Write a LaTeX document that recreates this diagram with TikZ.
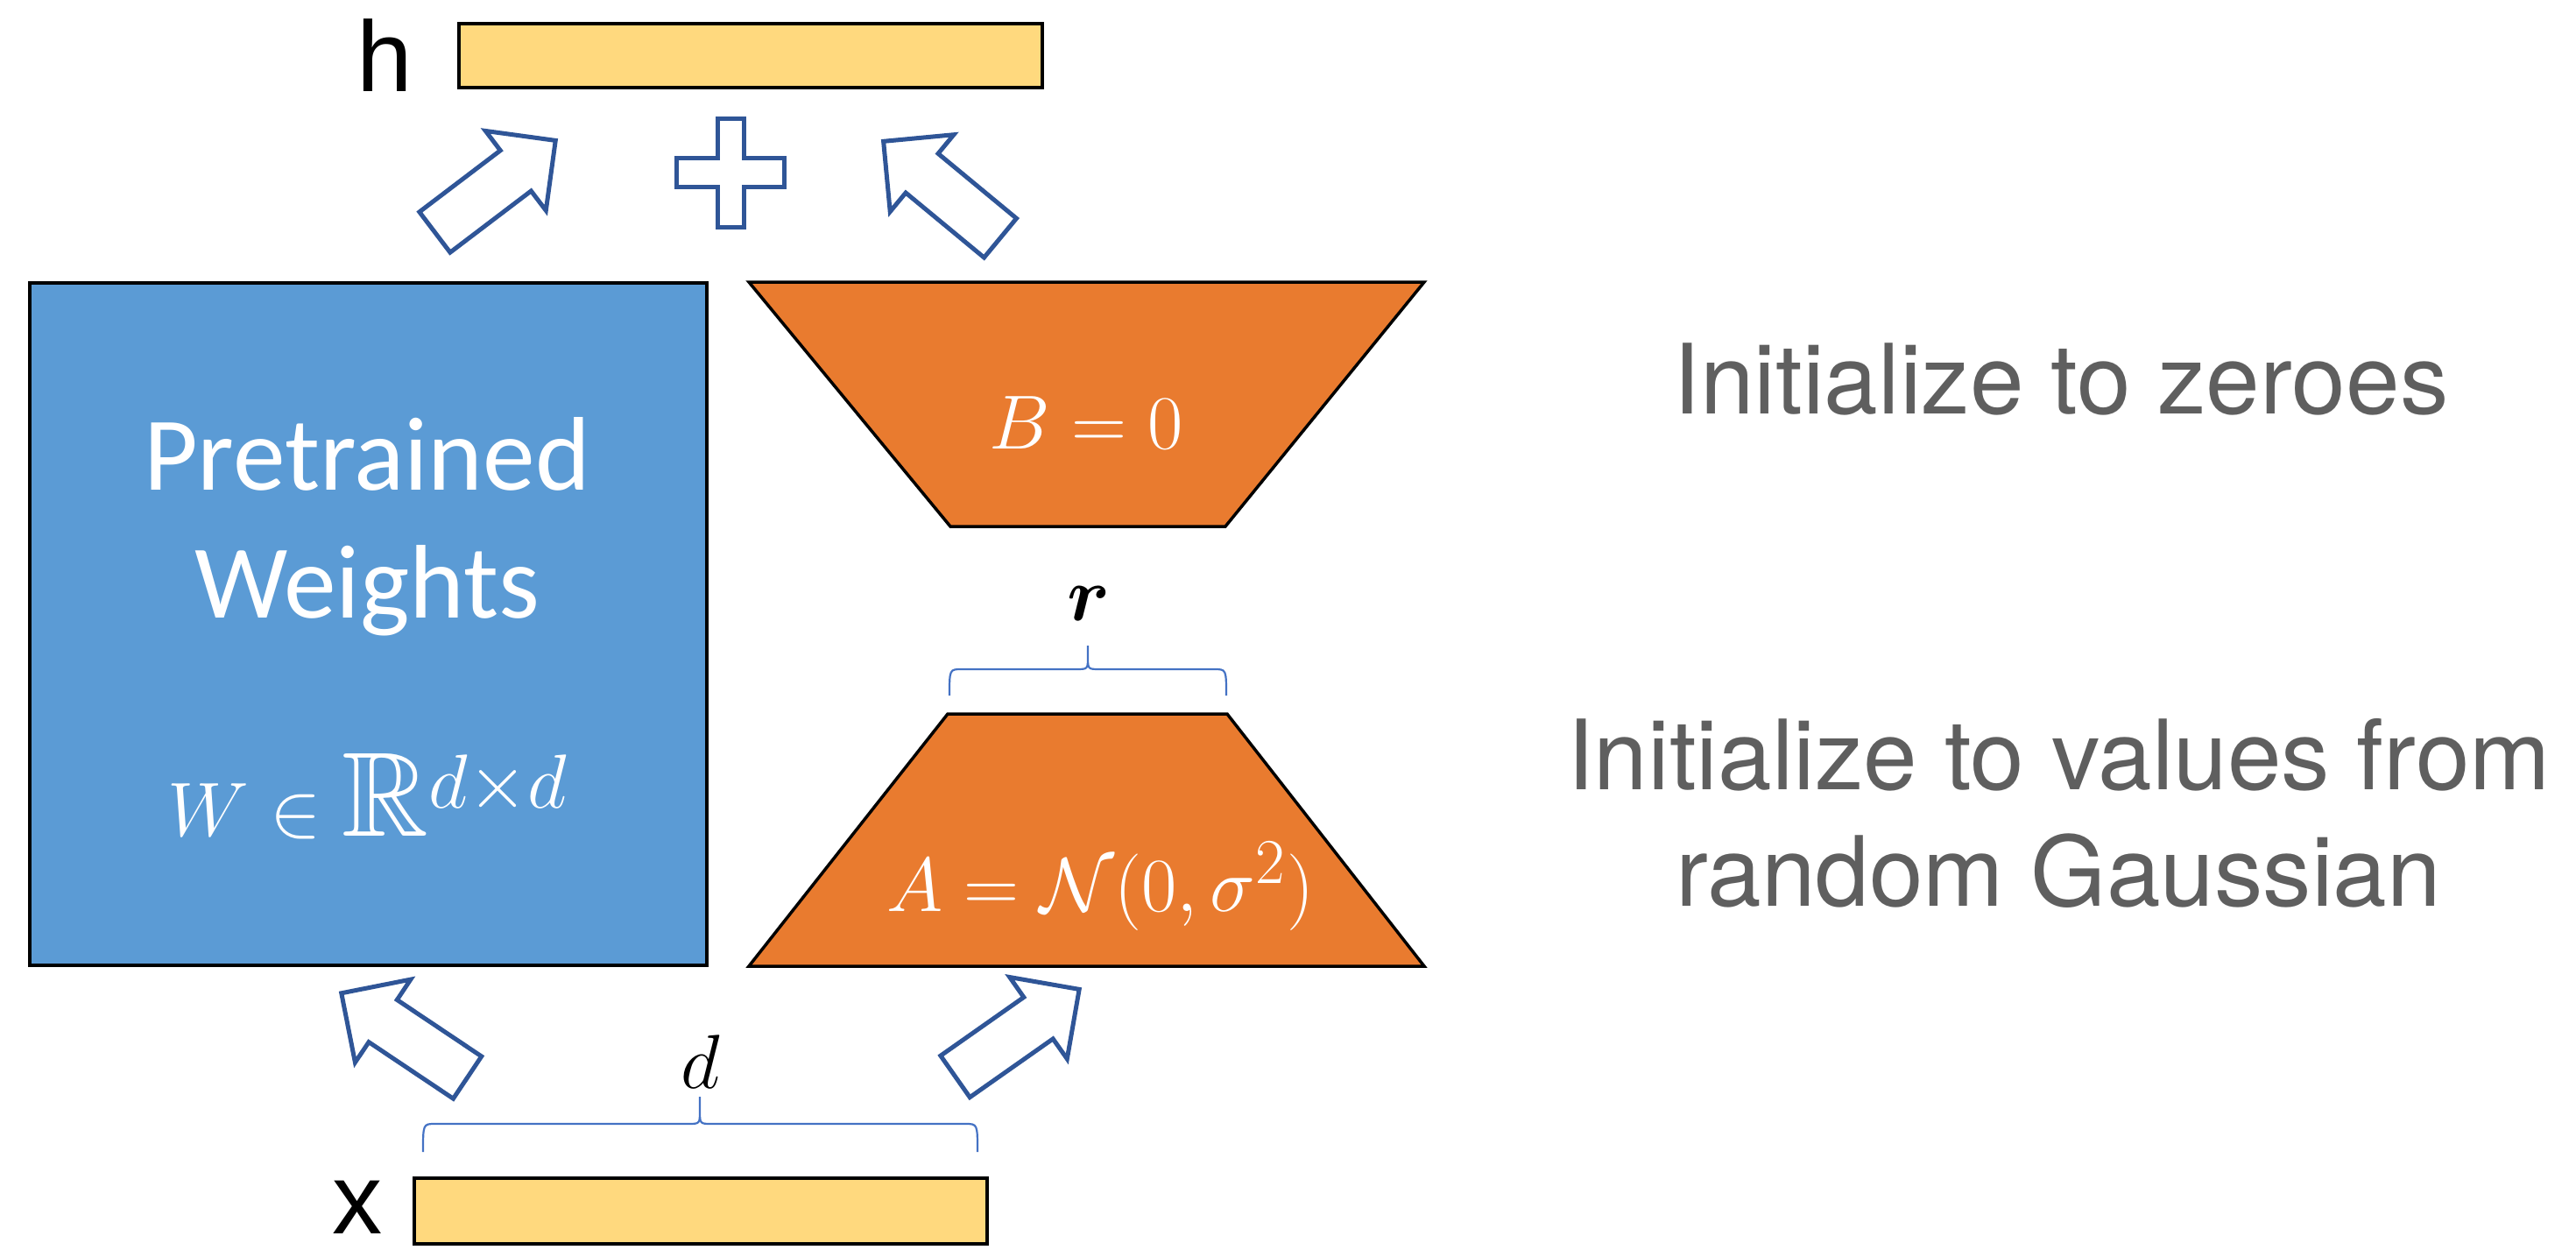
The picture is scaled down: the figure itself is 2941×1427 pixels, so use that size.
\documentclass[tikz,border=0pt]{standalone}
\usepackage{fontspec}
\usepackage{amsmath,amssymb}
\usetikzlibrary{shapes.arrows}
\newfontfamily\calibf{Carlito}
\newfontfamily\helvf{TeX Gyre Heros}
\newfontfamily\arialf{Liberation Sans}
\definecolor{wblue}{HTML}{5B9BD5}
\definecolor{orng}{HTML}{E97B2F}
\definecolor{barfill}{HTML}{FFD97E}
\definecolor{arrblue}{HTML}{2F5597}
\definecolor{brblue}{HTML}{4472C4}
\definecolor{txtgray}{HTML}{5F5F5F}
\begin{document}
\begin{tikzpicture}[x=0.01cm,y=-0.01cm,
  bar/.style={draw=black, line width=0.04cm, fill=barfill, inner sep=0},
  blockarr/.style={single arrow, draw=arrblue, fill=white, line width=0.05cm,
    inner xsep=0, inner ysep=0.265cm, minimum height=1.73cm, minimum width=1.08cm,
    single arrow head extend=0.28cm, single arrow tip angle=90},
  trap/.style={draw=black, line width=0.035cm, fill=orng, line join=miter},
  plussign/.style={draw=arrblue, line width=0.05cm, fill=white},
  bracestyle/.style={draw=brblue, line width=0.022cm},
  wtext/.style={anchor=base, text=white, inner sep=0},
  sidetext/.style={anchor=base, text=txtgray, inner sep=0, font=\helvf\fontsize{31.5}{38}\selectfont},
  vlabel/.style={anchor=base, inner sep=0, font=\arialf\fontsize{32.5}{39}\selectfont}]
\useasboundingbox (0,0) rectangle (2941,1427);

% bars
\node[bar, minimum width=6.66cm, minimum height=0.73cm] (h) at (857,63.5) {};
\node[bar, minimum width=6.54cm, minimum height=0.75cm] (x) at (800,1382.5) {};
\node[vlabel] (hl) at (439,104) {h};
\node[vlabel] (xl) at (408,1408) {x};

% pretrained weights
\node[draw=black, line width=0.035cm, fill=wblue, minimum width=7.73cm,
  minimum height=7.79cm, inner sep=0] (W) at (420.5,712.5) {};
\node[wtext, font=\calibf\fontsize{34}{40}\selectfont] (pt) at (419,559) {Pretrained};
\node[wtext, font=\calibf\fontsize{34}{40}\selectfont] (wt) at (419,705) {Weights};
\node[wtext, font=\fontsize{39}{46}\selectfont] (wm) at (420,954) {$W \in \mathbb{R}^{d\times d}$};

% trapezoids
\draw[trap] (855,322) -- (1626,322) -- (1399,601) -- (1085,601) -- cycle;
\draw[trap] (1082,815) -- (1401,815) -- (1626,1103) -- (855,1103) -- cycle;
\node[wtext, font=\fontsize{28.5}{34}\selectfont] (B) at (1240,512) {$B = 0$};
\node[wtext, font=\fontsize{30}{36}\selectfont] (A) at (1256,1040) {$A = \mathcal{N}(0,\sigma^2)$};

% braces
\draw[bracestyle] (1084,794) .. controls (1084,764) .. (1098,764) -- (1228,764)
  .. controls (1242,764) .. (1242,750) -- (1242,737)
  (1400,794) .. controls (1400,764) .. (1386,764) -- (1256,764)
  .. controls (1242,764) .. (1242,750);
\node[anchor=base, inner sep=0, font=\fontsize{29}{34}\selectfont] (r) at (1243,708) {$\boldsymbol{r}$};
\draw[bracestyle] (483,1315) .. controls (483,1283) .. (497,1283) -- (785,1283)
  .. controls (799,1283) .. (799,1268) -- (799,1252)
  (1116,1315) .. controls (1116,1283) .. (1102,1283) -- (813,1283)
  .. controls (799,1283) .. (799,1268);
\node[anchor=base, inner sep=0, font=\fontsize{28}{34}\selectfont] (d) at (800,1242) {$d$};

% block arrows
\node[blockarr, rotate=37.2] (a1) at (553.75,221.5) {};
\node[blockarr, rotate=140.4] (a2) at (1086.5,225.75) {};
\node[blockarr, rotate=146.2] (a3) at (473.75,1190) {};
\node[blockarr, rotate=35.1] (a4) at (1149.5,1187.5) {};

% plus
\coordinate (plus) at (834,197.5);
\draw[plussign] (819.5,135.5) -- (849.5,135.5) -- (849.5,180.5) -- (895.5,180.5)
  -- (895.5,213.5) -- (849.5,213.5) -- (849.5,259.5) -- (819.5,259.5)
  -- (819.5,213.5) -- (772.5,213.5) -- (772.5,180.5) -- (819.5,180.5) -- cycle;

% side texts
\node[sidetext] (t1) at (2353,472.7) {Initialize to zeroes};
\node[sidetext] (t2) at (2350.5,901.7) {Initialize to values from};
\node[sidetext] (t3) at (2350,1034.3) {random Gaussian};
\end{tikzpicture}
\end{document}
